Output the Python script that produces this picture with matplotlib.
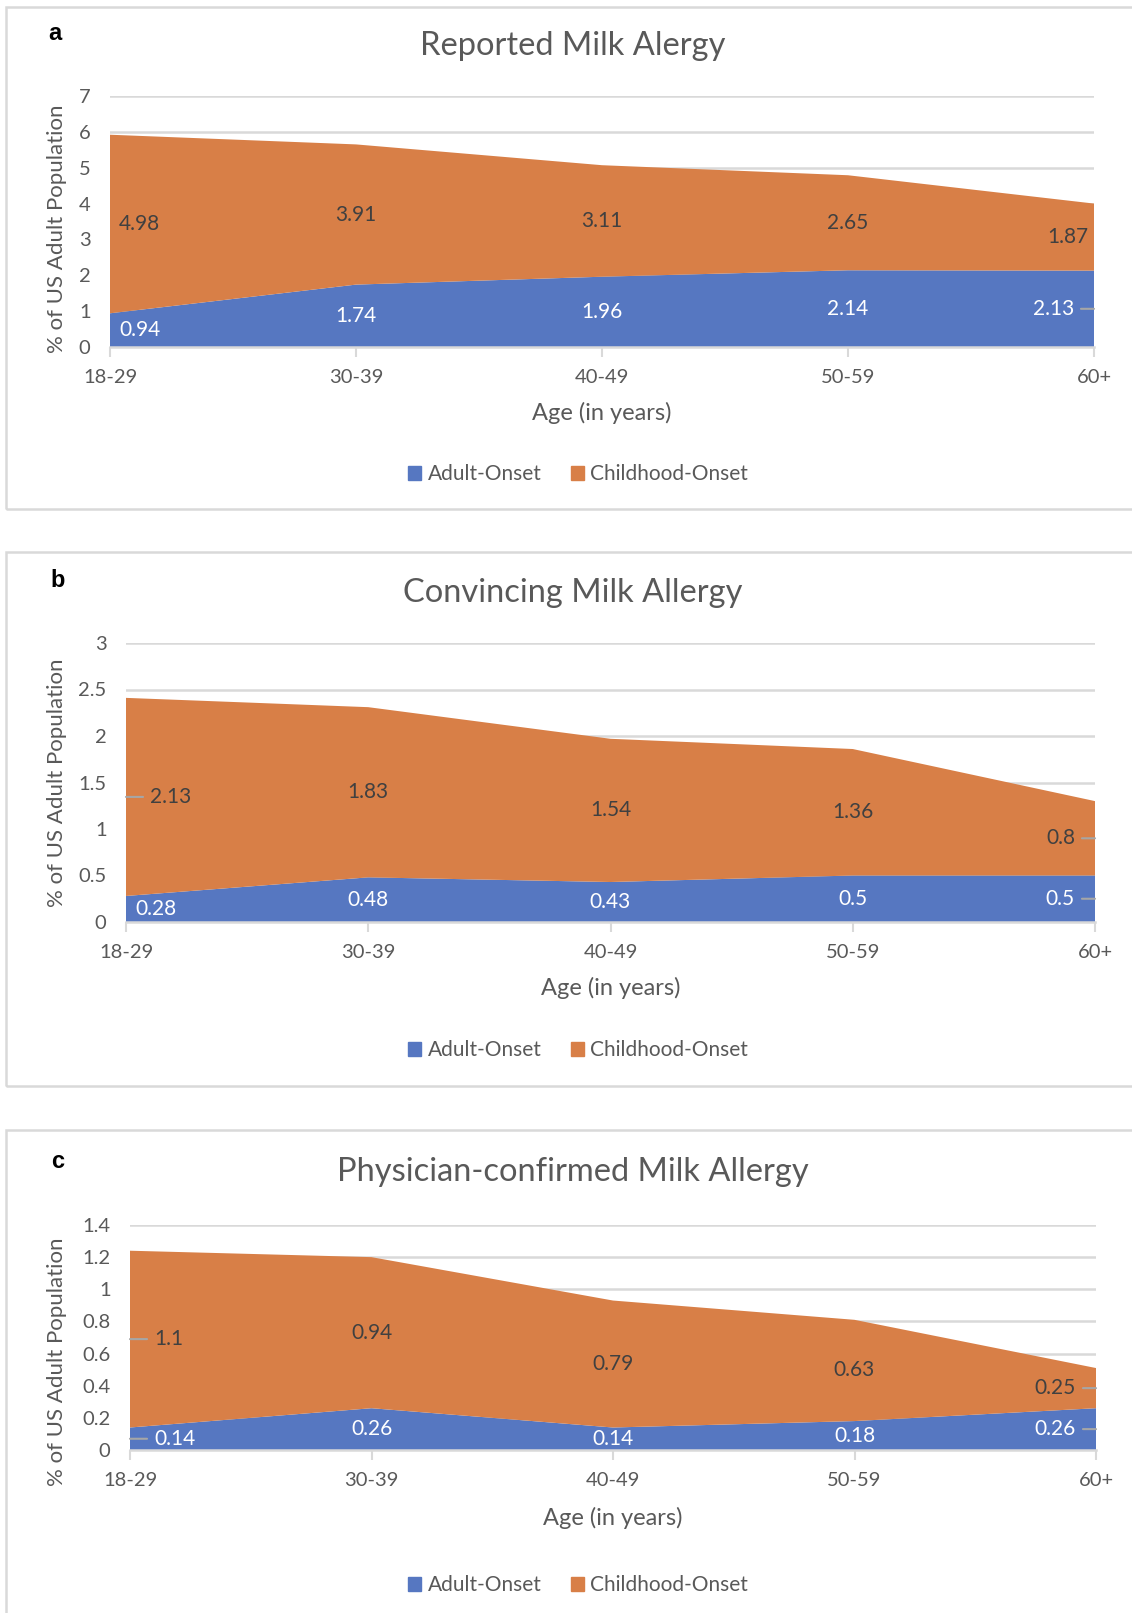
import matplotlib
matplotlib.use('Agg')
import matplotlib.pyplot as plt
from matplotlib.patches import Rectangle, Patch

plt.rcParams['font.family'] = ['Lato', 'DejaVu Sans']

# datos comunes
edades = ['18-29', '30-39', '40-49', '50-59', '60+']

# grafica a - reported
rep_adulto = [0.94, 1.74, 1.96, 2.14, 2.13]
rep_infancia = [4.98, 3.91, 3.11, 2.65, 1.87]

# grafica b - convincing
conv_adulto = [0.28, 0.48, 0.43, 0.5, 0.5]
conv_infancia = [2.13, 1.83, 1.54, 1.36, 0.8]

# grafica c - physician-confirmed
med_adulto = [0.14, 0.26, 0.14, 0.18, 0.26]
med_infancia = [1.1, 0.94, 0.79, 0.63, 0.25]

titulos = ['Reported Milk Alergy', 'Convincing Milk Allergy', 'Physician-confirmed Milk Allergy']
letras = ['a', 'b', 'c']
series = [(rep_adulto, rep_infancia), (conv_adulto, conv_infancia), (med_adulto, med_infancia)]
yticks = [[0, 1, 2, 3, 4, 5, 6, 7],
          [0, 0.5, 1, 1.5, 2, 2.5, 3],
          [0, 0.2, 0.4, 0.6, 0.8, 1, 1.2, 1.4]]

AZUL = '#5677C1'
NARANJA = '#D87F47'
GRIS = '#595959'
LINEA = '#D9D9D9'

W, H = 1132, 1613
fig = plt.figure(figsize=(W / 100, H / 100), dpi=100)

# cajas en pixeles: (izq, der, arriba, abajo) de los ejes, caja del panel, etc
ejes_px = [(110, 1094, 96, 347), (126, 1095, 643, 922), (130, 1096, 1225, 1450)]
caja_px = [(7, 509), (552, 1086), (1130, 1640)]
titulo_y = [46, 593, 1172]
letra_pos = [(55, 34), (58, 581), (58, 1162)]
xlabel_y = [413, 988, 1518]
leyenda_y = [474, 1050, 1585]
ylabel_y = [0.47, 0.5, 0.39]

# etiquetas con linea guia: (panel, serie, indice)
con_guia = {(0, 0, 4), (1, 1, 0), (1, 1, 4), (1, 0, 4),
            (2, 1, 0), (2, 0, 0), (2, 1, 4), (2, 0, 4)}


def etiqueta(ax, x, y, txt, color, n, guia):
    if x == 0:
        ha = 'left'
        dx = 24 if guia else 9
    elif x == n - 1:
        ha = 'right'
        dx = -20 if guia else -6
    else:
        ha = 'center'
        dx = 0
    flecha = None
    if guia:
        flecha = dict(arrowstyle='-', color='#A6A6A6', lw=1.5, shrinkA=3, shrinkB=0)
    ax.annotate(txt, xy=(x, y), xytext=(dx, 0), textcoords='offset pixels',
                ha=ha, va='center', fontsize=15, color=color, arrowprops=flecha)


for p in range(3):
    # caja del panel
    y0, y1 = caja_px[p]
    fig.patches.append(Rectangle((6 / W, 1 - y1 / H), 1.2, (y1 - y0) / H,
                                 transform=fig.transFigure, fill=False,
                                 edgecolor=LINEA, lw=1.8))

    l, r, t, b = ejes_px[p]
    ax = fig.add_axes([l / W, 1 - b / H, (r - l) / W, (b - t) / H])
    adulto, infancia = series[p]
    xs = list(range(len(edades)))
    ax.stackplot(xs, adulto, infancia, colors=[AZUL, NARANJA], lw=0)

    ax.set_xlim(0, len(edades) - 1)
    ax.set_ylim(yticks[p][0], yticks[p][-1])
    ax.set_yticks(yticks[p])
    ax.set_yticklabels(['{:g}'.format(v) for v in yticks[p]])
    ax.set_xticks(xs)
    ax.set_xticklabels(edades)
    ax.grid(axis='y', color=LINEA, lw=1.8)
    ax.set_axisbelow(True)
    for s in ['top', 'right', 'left']:
        ax.spines[s].set_visible(False)
    ax.spines['bottom'].set_color(LINEA)
    ax.spines['bottom'].set_linewidth(1.8)
    ax.spines['bottom'].set_zorder(3)
    ax.tick_params(axis='y', length=0, pad=14, labelsize=14.5, labelcolor=GRIS)
    ax.tick_params(axis='x', length=7, width=1.5, color=LINEA, pad=9,
                   labelsize=14.5, labelcolor=GRIS)

    ax.set_ylabel('% of US Adult Population', fontsize=16, color=GRIS)
    ax.yaxis.set_label_coords((67 - l) / (r - l), ylabel_y[p])

    # etiquetas de datos
    n = len(edades)
    for i in range(n):
        etiqueta(ax, i, adulto[i] / 2, '{:g}'.format(adulto[i]), 'white', n,
                 (p, 0, i) in con_guia)
        etiqueta(ax, i, adulto[i] + infancia[i] / 2, '{:g}'.format(infancia[i]), '#404040', n,
                 (p, 1, i) in con_guia)

    fig.text(573 / W, 1 - titulo_y[p] / H, titulos[p], ha='center', va='center',
             fontsize=23.5, color=GRIS)
    fig.text(letra_pos[p][0] / W, 1 - letra_pos[p][1] / H, letras[p], ha='center', va='center',
             fontsize=17, fontweight='bold', color='black', family=['Liberation Sans', 'DejaVu Sans'])
    fig.text(((l + r) / 2) / W, 1 - xlabel_y[p] / H, 'Age (in years)', ha='center', va='center',
             fontsize=17, color=GRIS)

    manejadores = [Patch(color=AZUL), Patch(color=NARANJA)]
    fig.legend(manejadores, ['Adult-Onset', 'Childhood-Onset'], loc='center',
               bbox_to_anchor=(578 / W, 1 - leyenda_y[p] / H), ncol=2, frameon=False,
               fontsize=15, handlelength=0.65, handleheight=0.65, handletextpad=0.3,
               columnspacing=1.4, labelcolor=GRIS)

fig.savefig('out.png', dpi=100, facecolor='white')
